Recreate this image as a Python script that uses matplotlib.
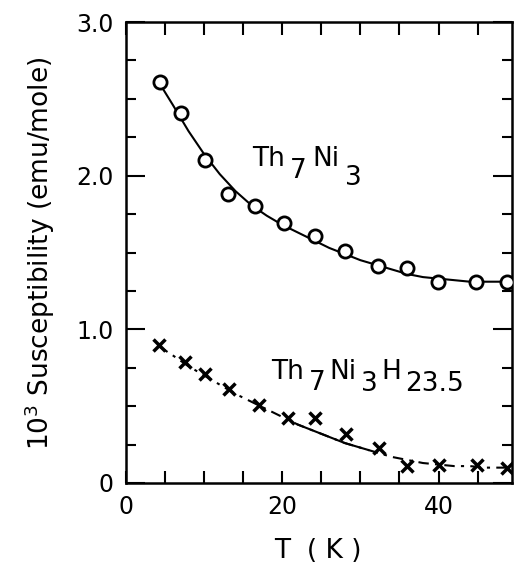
import matplotlib
matplotlib.use("Agg")
import matplotlib.pyplot as plt
from matplotlib.ticker import MultipleLocator, FixedLocator

# ---- data ----
T_ni3 = [4.3, 7.0, 10.1, 13.1, 16.5, 20.2, 24.2, 28.0, 32.2, 36.0, 39.9, 44.8, 48.8]
chi_ni3 = [2.61, 2.41, 2.10, 1.88, 1.80, 1.69, 1.61, 1.51, 1.41, 1.40, 1.31, 1.31, 1.31]

T_hyd = [4.2, 7.6, 10.1, 13.2, 17.0, 20.7, 24.2, 28.2, 32.4, 35.9, 40.0, 44.9, 48.8]
chi_hyd = [0.90, 0.79, 0.71, 0.61, 0.51, 0.42, 0.42, 0.32, 0.23, 0.11, 0.115, 0.12, 0.10]

# fitted curves
fit_T_ni3 = [4.3, 6, 8, 10, 12, 14, 16, 18, 20, 22, 24, 26, 28, 30, 32, 34, 36, 38, 40, 42, 44, 46, 48, 49.4]
fit_chi_ni3 = [2.60, 2.46, 2.29, 2.14, 2.01, 1.90, 1.81, 1.74, 1.68, 1.63, 1.58, 1.53, 1.49, 1.45,
               1.42, 1.39, 1.36, 1.34, 1.33, 1.32, 1.31, 1.31, 1.31, 1.31]

fit_T_hyd = [4.2, 6, 8, 10, 12, 14, 16, 18, 20, 22, 24, 26, 28, 30, 32, 34, 36, 38, 40, 42, 44, 46, 48, 49.4]
fit_chi_hyd = [0.89, 0.83, 0.76, 0.70, 0.64, 0.58, 0.53, 0.48, 0.43, 0.38, 0.34, 0.30, 0.26, 0.23,
               0.20, 0.17, 0.15, 0.13, 0.12, 0.11, 0.11, 0.10, 0.10, 0.10]
solid_T_hyd = [22, 24, 26, 28, 30, 31]
solid_chi_hyd = [0.38, 0.34, 0.30, 0.26, 0.23, 0.215]

x_major = [0, 20, 40]
y_major = [0, 1.0, 2.0, 3.0]
y_labels = ["0", "1.0", "2.0", "3.0"]

plt.rcParams['font.family'] = ['DejaVu Sans']

fig = plt.figure(figsize=(5.14, 5.66), dpi=100)
ax = fig.add_axes([126/514, 1 - 483/566, (512 - 126)/514, (483 - 22)/566])

# curves
ax.plot(fit_T_ni3, fit_chi_ni3, color='black', lw=1.5, zorder=2)
ax.plot(fit_T_hyd, fit_chi_hyd, color='black', lw=1.5, linestyle=(0, (5, 3, 1.5, 3)), zorder=2)
ax.plot(solid_T_hyd, solid_chi_hyd, color='black', lw=1.5, zorder=2)

# data points
ax.plot(T_ni3, chi_ni3, linestyle='none', marker='o', ms=9.5, mfc='white', mec='black', mew=2.0, zorder=3)
ax.plot(T_hyd, chi_hyd, linestyle='none', marker='x', ms=8, mec='black', mew=2.5, zorder=3)

ax.set_xlim(0, 49.4)
ax.set_ylim(0, 3.0)

ax.xaxis.set_major_locator(FixedLocator(x_major))
ax.xaxis.set_minor_locator(MultipleLocator(5))
ax.yaxis.set_major_locator(FixedLocator(y_major))
ax.yaxis.set_minor_locator(MultipleLocator(0.25))
ax.set_yticklabels(y_labels)

ax.tick_params(axis='both', which='both', direction='in', top=True, right=True, width=1.5, color='black')
ax.tick_params(axis='x', which='both', length=9, pad=9)
ax.tick_params(axis='y', which='major', length=14, pad=9)
ax.tick_params(axis='y', which='minor', length=7)
for lab in ax.get_xticklabels() + ax.get_yticklabels():
    lab.set_fontsize(17)
for sp in ax.spines.values():
    sp.set_linewidth(1.8)

# axis labels
fig.text(318/514, 1 - 551/566, "T  ( K )", ha='center', va='center', fontsize=19)
fig.text(40/514, 1 - 253/566, r"10$^3$ Susceptibility (emu/mole)", ha='center', va='center',
         rotation=90, fontsize=19)


def chem_label(ax, x, y, pieces, size=18, gap=3):
    first, _ = pieces[0]
    prev = ax.text(x, y, first, fontsize=size, va='baseline', ha='left')
    prev_dy = 0
    for s, dy in pieces[1:]:
        prev = ax.annotate(s, xy=(1, 0), xycoords=prev, xytext=(gap, dy - prev_dy),
                           textcoords='offset points', va='bottom', ha='left', fontsize=size)
        prev_dy = dy
    return prev


chem_label(ax, 16.1, 2.06, [("Th", 0), ("7", -8), ("Ni", 0), ("3", -13)], size=19, gap=4)
chem_label(ax, 18.6, 0.68, [("Th", 0), ("7", -8), ("Ni", 0), ("3", -9), ("H", 0), ("23.5", -9)], size=19, gap=3)

fig.savefig("out.png", dpi=100)
